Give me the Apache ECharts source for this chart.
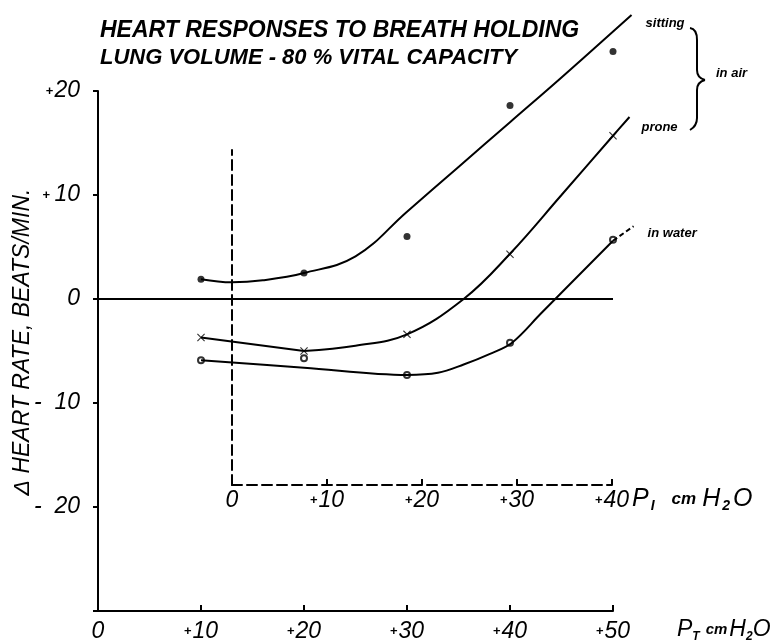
<!DOCTYPE html>
<html><head><meta charset="utf-8">
<script src="https://cdn.jsdelivr.net/npm/echarts/dist/echarts.min.js"></script>
<style>html,body{margin:0;padding:0;background:#fff}#c{width:781px;height:644px}</style>
</head><body><div id="c"></div>
<script>
// ---- data ----
const titleLines = ['HEART RESPONSES TO BREATH HOLDING', 'LUNG VOLUME - 80 % VITAL CAPACITY'];
const yAxisTitle = 'Δ HEART RATE, BEATS/MIN.';
const ptRange = [0, 50];          // P_T cmH2O (drawn axis)
const piRange = [0, 40];          // P_I cmH2O (dashed axis)
const yRange = [-30, 20];
const pressures = [10, 20, 30, 40, 50];          // P_T of measurements
const sitting = [1.9, 2.5, 6.0, 18.6, 23.8];
const prone = [-3.7, -5.0, -3.4, 4.3, 15.7];
const water = [-5.9, -5.7, -7.3, -4.2, 5.7];
// hand-drawn fitted curves (P_T, delta HR)
const sittingCurve = [[10,1.9],[13,1.6],[16,1.8],[20,2.5],[25,4.1],[30,8.4],[35,12.7],[40,17.0],[45,21.3],[51.8,27.3]];
const proneLine = [[10,-3.7],[20,-5.0]];
const proneCurve = [[20,-5.0],[25,-4.5],[30,-3.4],[35.5,0],[40,4.35],[45,10.0],[50,15.7],[51.6,17.5]];
const waterCurve = [[10,-5.9],[20,-6.6],[30,-7.3],[33,-7.1],[35.5,-6.3],[38,-5.3],[40.2,-4.2],[43,-1.4],[50,5.6]];
const waterExtension = [[50,5.6],[52,7.0]];
const zeroLine = [[0,0],[50,0]];
const curveLabels = ['sitting', 'prone', 'in water'];
const groupLabel = 'in air';

// ---- chart ----
const FONT = 'Liberation Sans';
const chart = echarts.init(document.getElementById('c'), null, {renderer: 'canvas'});
const toPts = v => pressures.map((p, i) => [p, v[i]]);
const tickRich = {
  p: {fontSize: 13, fontWeight: 'bold', fontFamily: FONT, color: '#000', padding: [0, 1, 0, 0]},
  n: {fontSize: 23, fontStyle: 'italic', fontFamily: FONT, color: '#000'}
};
function yFmt(v) {
  if (v === 0) return '{n|0}';
  if (v <= yRange[0]) return '';
  return v > 0 ? '{p|+}' + (v < 20 ? ' ' : '') + '{n|' + v + '}' : '{n|-  ' + Math.abs(v) + '}';
}
function xFmt(v) { return v === 0 ? '{n|0}' : '{p|+}{n|' + v + '}'; }
const nameRich = {
  a: {fontSize: 23, fontStyle: 'italic', fontFamily: FONT, color: '#000'},
  s: {fontSize: 12, fontStyle: 'italic', fontWeight: 'bold', fontFamily: FONT, color: '#000', padding: [14, 0, 0, 0]},
  b: {fontSize: 15, fontStyle: 'italic', fontWeight: 'bold', fontFamily: FONT, color: '#000', padding: [0, 2, 0, 6]}
};
const nameRichI = {
  a: {fontSize: 25, fontStyle: 'italic', fontFamily: FONT, color: '#000', padding: [0, 1, 0, 0]},
  s: {fontSize: 14, fontStyle: 'italic', fontWeight: 'bold', fontFamily: FONT, color: '#000', padding: [14, 3, 0, 1]},
  b: {fontSize: 17, fontStyle: 'italic', fontWeight: 'bold', fontFamily: FONT, color: '#000', padding: [0, 6, 0, 14]}
};
const smallLab = (txt, off) => ({show: true, formatter: txt, offset: off, fontSize: 13, fontStyle: 'italic', fontWeight: 'bold', fontFamily: FONT, color: '#000'});
const blackLine = {color: '#000', width: 2};
const braceStyle = {stroke: '#000', lineWidth: 2, fill: null};

// plotting grid (index 2) uses the same px-per-unit as the drawn axes but a wider
// range, so the hand-drawn curves can run past the end of the P_T axis like the original
const G = {left: 98, bottom: 611, pxX: 515 / 50, pxY: 520 / 50};
const plotX = [0, 60], plotY = [-30, 28];

chart.setOption({
  animation: false,
  backgroundColor: '#fff',
  title: [
    {text: titleLines[0], left: 95, top: 14, textStyle: {fontSize: 23, fontStyle: 'italic', fontWeight: 'bold', fontFamily: FONT, color: '#000'}},
    {text: titleLines[1], left: 95, top: 42, textStyle: {fontSize: 22, fontStyle: 'italic', fontWeight: 'bold', fontFamily: FONT, color: '#000'}}
  ],
  grid: [
    {outerBoundsMode: 'none', containLabel: false, left: G.left, width: G.pxX * (ptRange[1] - ptRange[0]), top: G.bottom - G.pxY * (yRange[1] - yRange[0]), height: G.pxY * (yRange[1] - yRange[0])},
    {outerBoundsMode: 'none', containLabel: false, left: 232, width: 380, top: 150, height: 335},
    {outerBoundsMode: 'none', containLabel: false, left: G.left, width: G.pxX * (plotX[1] - plotX[0]), top: G.bottom - G.pxY * (plotY[1] - plotY[0]), height: G.pxY * (plotY[1] - plotY[0])}
  ],
  xAxis: [
    {gridIndex: 0, type: 'value', min: ptRange[0], max: ptRange[1], interval: 10,
     axisLine: {onZero: false, lineStyle: blackLine}, axisTick: {inside: true, length: 6, lineStyle: blackLine},
     splitLine: {show: false},
     axisLabel: {margin: 9, formatter: xFmt, rich: tickRich},
     name: '{a|P}{s|T}{b|cm}{a|H}{s|2}{a|O}', nameLocation: 'end', nameGap: 64, nameMoveOverlap: false,
     nameTextStyle: {rich: nameRich, verticalAlign: 'top', padding: [6, 0, 0, 0]}},
    {gridIndex: 1, type: 'value', min: piRange[0], max: piRange[1], interval: 10,
     axisLine: {onZero: false, lineStyle: {color: '#000', width: 2, type: [10, 5]}},
     axisTick: {inside: true, length: 6, lineStyle: blackLine},
     splitLine: {show: false},
     axisLabel: {margin: 4, formatter: xFmt, rich: tickRich},
     name: '{a|P}{s|I}{b|cm}{a|H}{s|2}{a|O}', nameLocation: 'end', nameGap: 20, nameMoveOverlap: false,
     nameTextStyle: {rich: nameRichI, verticalAlign: 'top', padding: [0, 0, 0, 0]}},
    {gridIndex: 2, type: 'value', min: plotX[0], max: plotX[1], show: false, splitLine: {show: false}}
  ],
  yAxis: [
    {gridIndex: 0, type: 'value', min: yRange[0], max: yRange[1], interval: 10,
     axisLine: {onZero: false, lineStyle: blackLine}, axisTick: {length: 5, lineStyle: blackLine},
     splitLine: {show: false},
     axisLabel: {margin: 18, formatter: yFmt, rich: tickRich},
     name: yAxisTitle, nameLocation: 'middle', nameGap: 64, nameRotate: 90, nameMoveOverlap: false,
     nameTextStyle: {fontSize: 23, fontStyle: 'italic', fontFamily: FONT, color: '#000', padding: [0, 0, 0, 18]}},
    {gridIndex: 1, type: 'value', min: 0, max: 1,
     axisLine: {onZero: false, lineStyle: {color: '#000', width: 2, type: [10, 5]}},
     axisTick: {show: false}, axisLabel: {show: false}, splitLine: {show: false}},
    {gridIndex: 2, type: 'value', min: plotY[0], max: plotY[1], show: false, splitLine: {show: false}}
  ],
  graphic: [
    {type: 'bezierCurve', shape: {x1: 690, y1: 28, x2: 697, y2: 40, cpx1: 697, cpy1: 29}, style: braceStyle},
    {type: 'line', shape: {x1: 697, y1: 40, x2: 697, y2: 70}, style: braceStyle},
    {type: 'bezierCurve', shape: {x1: 697, y1: 70, x2: 705, y2: 80, cpx1: 697, cpy1: 78}, style: braceStyle},
    {type: 'bezierCurve', shape: {x1: 705, y1: 80, x2: 697, y2: 90, cpx1: 697, cpy1: 82}, style: braceStyle},
    {type: 'line', shape: {x1: 697, y1: 90, x2: 697, y2: 118}, style: braceStyle},
    {type: 'bezierCurve', shape: {x1: 697, y1: 118, x2: 690, y2: 130, cpx1: 697, cpy1: 126}, style: braceStyle},
    {type: 'text', left: 716, top: 67, style: {text: groupLabel, fontSize: 13, fontStyle: 'italic', fontWeight: 'bold', fontFamily: FONT, fill: '#000'}}
  ],
  series: [
    {type: 'line', xAxisIndex: 2, yAxisIndex: 2, data: zeroLine, symbol: 'none', lineStyle: blackLine, silent: true},
    {type: 'line', xAxisIndex: 2, yAxisIndex: 2, data: sittingCurve, smooth: 0.4, symbol: 'none', lineStyle: blackLine,
     endLabel: smallLab(curveLabels[0], [6, 8])},
    {type: 'line', xAxisIndex: 2, yAxisIndex: 2, data: proneLine, symbol: 'none', lineStyle: blackLine},
    {type: 'line', xAxisIndex: 2, yAxisIndex: 2, data: proneCurve, smooth: 0.4, symbol: 'none', lineStyle: blackLine,
     endLabel: smallLab(curveLabels[1], [4, 10])},
    {type: 'line', xAxisIndex: 2, yAxisIndex: 2, data: waterCurve, smooth: 0.35, symbol: 'none', lineStyle: blackLine},
    {type: 'line', xAxisIndex: 2, yAxisIndex: 2, data: waterExtension, symbol: 'none', lineStyle: {color: '#000', width: 2, type: [5, 3]},
     endLabel: smallLab(curveLabels[2], [6, 7])},
    {type: 'scatter', xAxisIndex: 2, yAxisIndex: 2, data: toPts(sitting), symbol: 'circle', symbolSize: 7, itemStyle: {color: '#000'}},
    {type: 'scatter', xAxisIndex: 2, yAxisIndex: 2, data: toPts(prone), symbol: 'path://M0,1L1,0L5,4L9,0L10,1L6,5L10,9L9,10L5,6L1,10L0,9L4,5Z', symbolSize: 8, itemStyle: {color: '#000'}},
    {type: 'scatter', xAxisIndex: 2, yAxisIndex: 2, data: toPts(water), symbol: 'emptyCircle', symbolSize: 6, itemStyle: {color: '#000', borderColor: '#000', borderWidth: 1.5}}
  ]
});
</script></body></html>
